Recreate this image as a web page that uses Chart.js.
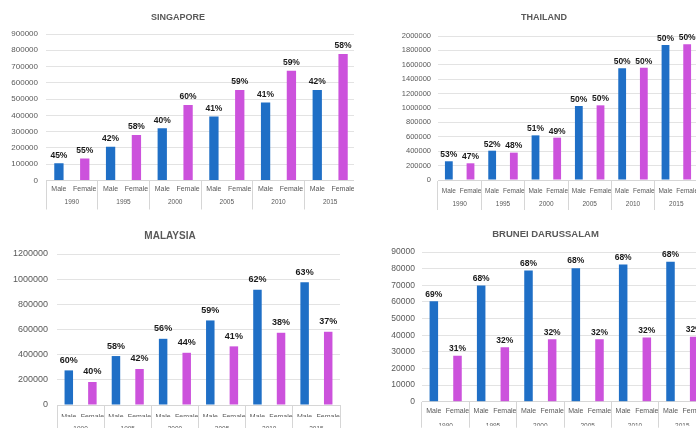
<!DOCTYPE html>
<html>
<head>
<meta charset="utf-8">
<script src="https://cdn.jsdelivr.net/npm/chart.js@4.4.1/dist/chart.umd.min.js"></script>
<style>
  html, body { margin: 0; padding: 0; background: #ffffff; }
  body { width: 696px; height: 428px; position: relative; overflow: hidden; }
  .panel { position: absolute; overflow: hidden; }
  .panel canvas { position: absolute; left: 0; top: 0; }
</style>
</head>
<body>
<div class="panel" style="left:0px;top:0px;width:354px;height:214px"><canvas id="c-sg" width="374" height="214"></canvas></div>
<div class="panel" style="left:390px;top:0px;width:306px;height:214px"><canvas id="c-th" width="324" height="214"></canvas></div>
<div class="panel" style="left:0px;top:214px;width:360px;height:214px"><canvas id="c-my" width="360" height="214"></canvas></div>
<div class="panel" style="left:385px;top:214px;width:311px;height:214px"><canvas id="c-bn" width="332" height="214"></canvas></div>
<script>
// Categories
const years = ['1990', '1995', '2000', '2005', '2010', '2015'];
const sexes = ['Male', 'Female'];

// Singapore
const sgMale = [106000, 207000, 321000, 393000, 479000, 556000];
const sgFemale = [135000, 280000, 464000, 556000, 675000, 777000];
const sgMaleShare = [45, 42, 40, 41, 41, 42];
const sgFemaleShare = [55, 58, 60, 59, 59, 58];

// Thailand
const thMale = [260000, 407000, 620000, 1028000, 1551000, 1875000];
const thFemale = [232000, 380000, 588000, 1037000, 1560000, 1884000];
const thMaleShare = [53, 52, 51, 50, 50, 50];
const thFemaleShare = [47, 48, 49, 50, 50, 50];

// Malaysia
const myMale = [275000, 389000, 526000, 672000, 915000, 976000];
const myFemale = [183000, 286000, 415000, 466000, 574000, 582000];
const myMaleShare = [60, 58, 56, 59, 62, 63];
const myFemaleShare = [40, 42, 44, 41, 38, 37];

// Brunei Darussalam
const bnMale = [60400, 69900, 78900, 80300, 82500, 84100];
const bnFemale = [27700, 32700, 37600, 37600, 38600, 39000];
const bnMaleShare = [69, 68, 68, 68, 68, 68];
const bnFemaleShare = [31, 32, 32, 32, 32, 32];

const MALE_COLOR = '#1f6fc6';
const FEMALE_COLOR = '#cc52dc';
const TEXT_GREY = '#595959';
const GRID_GREY = '#e3e3e3';
const SEP_GREY = '#d6d6d6';
const FONT = "'Liberation Sans', Arial, sans-serif";

// One slot per sex inside every year; each series fills only its own slots.
const slotLabels = years.flatMap(() => sexes);
function spread(values, slot) {
  const out = new Array(years.length * sexes.length).fill(null);
  values.forEach((v, i) => { out[i * sexes.length + slot] = v; });
  return out;
}

// Percentage share printed above each bar.
const shareLabels = {
  id: 'shareLabels',
  afterDatasetsDraw(chart, args, opts) {
    const ctx = chart.ctx;
    ctx.save();
    ctx.font = 'bold ' + opts.size + 'px ' + FONT;
    ctx.fillStyle = '#1a1a1a';
    ctx.textAlign = 'center';
    ctx.textBaseline = 'middle';
    chart.data.datasets.forEach((ds, di) => {
      const meta = chart.getDatasetMeta(di);
      meta.data.forEach((bar, i) => {
        if (ds.data[i] == null) return;
        ctx.fillText(ds.shares[i] + '%', bar.x, bar.y - opts.offset);
      });
    });
    ctx.restore();
  }
};

function makeChart(id, cfg) {
  const datasets = [
    { label: sexes[0], data: spread(cfg.male, 0), shares: spread(cfg.maleShare, 0), backgroundColor: MALE_COLOR },
    { label: sexes[1], data: spread(cfg.female, 1), shares: spread(cfg.femaleShare, 1), backgroundColor: FEMALE_COLOR }
  ].map(d => Object.assign(d, { grouped: false, barPercentage: 0.36, categoryPercentage: 1 }));

  return new Chart(document.getElementById(id), {
    type: 'bar',
    data: { labels: slotLabels, datasets },
    plugins: [shareLabels],
    options: {
      responsive: false,
      animation: false,
      devicePixelRatio: 1,
      layout: { padding: cfg.pad },
      plugins: {
        legend: { display: false },
        tooltip: { enabled: false },
        title: {
          display: true,
          text: cfg.title,
          color: TEXT_GREY,
          font: { family: FONT, size: cfg.titleSize, weight: 'bold' },
          padding: cfg.titlePad
        },
        shareLabels: { size: cfg.labelSize, offset: cfg.labelOffset }
      },
      scales: {
        x: {
          type: 'category',
          offset: true,
          grid: {
            display: true,
            drawOnChartArea: false,
            offset: true,
            drawTicks: true,
            tickLength: cfg.sepLen,
            color: c => (c.index === undefined || c.index % 2 === 0) ? SEP_GREY : 'rgba(0,0,0,0)'
          },
          border: { display: true, color: SEP_GREY },
          ticks: {
            color: TEXT_GREY,
            font: { family: FONT, size: cfg.sexSize },
            padding: cfg.sexPad,
            maxRotation: 0,
            autoSkip: false
          },
          afterFit: s => { s.height = cfg.sexH; }
        },
        x2: {
          type: 'category',
          position: 'bottom',
          labels: years,
          offset: true,
          grid: { display: false, drawTicks: false },
          border: { display: false },
          ticks: {
            color: TEXT_GREY,
            font: { family: FONT, size: cfg.yearSize },
            padding: cfg.yearPad,
            maxRotation: 0,
            autoSkip: false
          },
          afterFit: s => { s.height = cfg.yearH; }
        },
        y: {
          min: 0,
          max: cfg.max,
          ticks: {
            stepSize: cfg.step,
            color: TEXT_GREY,
            font: { family: FONT, size: cfg.tickSize },
            padding: cfg.tickPad,
            callback: v => String(v)
          },
          grid: { color: GRID_GREY, drawTicks: false },
          border: { display: false },
          afterFit: s => { s.width = cfg.yW; }
        }
      }
    }
  });
}

makeChart('c-sg', {
  title: 'SINGAPORE', male: sgMale, female: sgFemale, maleShare: sgMaleShare, femaleShare: sgFemaleShare,
  max: 900000, step: 100000,
  pad: { left: 0, right: 18, top: 0, bottom: 5.5 },
  titleSize: 9, titlePad: { top: 12, bottom: 11.2 },
  yW: 46, tickPad: 8, tickSize: 8,
  sepLen: 29, sexSize: 7, sexPad: -24.7, sexH: 14,
  yearSize: 6.5, yearPad: 4.1, yearH: 14,
  labelSize: 8.5, labelOffset: 8
});

makeChart('c-th', {
  title: 'THAILAND', male: thMale, female: thFemale, maleShare: thMaleShare, femaleShare: thFemaleShare,
  max: 2000000, step: 200000,
  pad: { left: 0, right: 16, top: 0, bottom: 6 },
  titleSize: 9, titlePad: { top: 12.6, bottom: 12.6 },
  yW: 48, tickPad: 7, tickSize: 7.5,
  sepLen: 30, sexSize: 6.5, sexPad: -22.2, sexH: 14,
  yearSize: 6.5, yearPad: 6.1, yearH: 14,
  labelSize: 8.5, labelOffset: 6.5
});

makeChart('c-my', {
  title: 'MALAYSIA', male: myMale, female: myFemale, maleShare: myMaleShare, femaleShare: myFemaleShare,
  max: 1200000, step: 200000,
  pad: { left: 0, right: 20, top: 0, bottom: 0 },
  titleSize: 10, titlePad: { top: 16, bottom: 12 },
  yW: 57, tickPad: 9, tickSize: 9,
  sepLen: 25, sexSize: 7, sexPad: -17.2, sexH: 12,
  yearSize: 6.5, yearPad: 8.5, yearH: 11,
  labelSize: 9, labelOffset: 10
});

makeChart('c-bn', {
  title: 'BRUNEI DARUSSALAM', male: bnMale, female: bnFemale, maleShare: bnMaleShare, femaleShare: bnFemaleShare,
  max: 90000, step: 10000,
  pad: { left: 0, right: 11, top: 0, bottom: 2.3 },
  titleSize: 9.5, titlePad: { top: 14.3, bottom: 12.3 },
  yW: 37, tickPad: 7, tickSize: 8.5,
  sepLen: 26, sexSize: 7, sexPad: -21.2, sexH: 12,
  yearSize: 6.5, yearPad: 8.6, yearH: 12,
  labelSize: 8.5, labelOffset: 7
});
</script>
</body>
</html>
